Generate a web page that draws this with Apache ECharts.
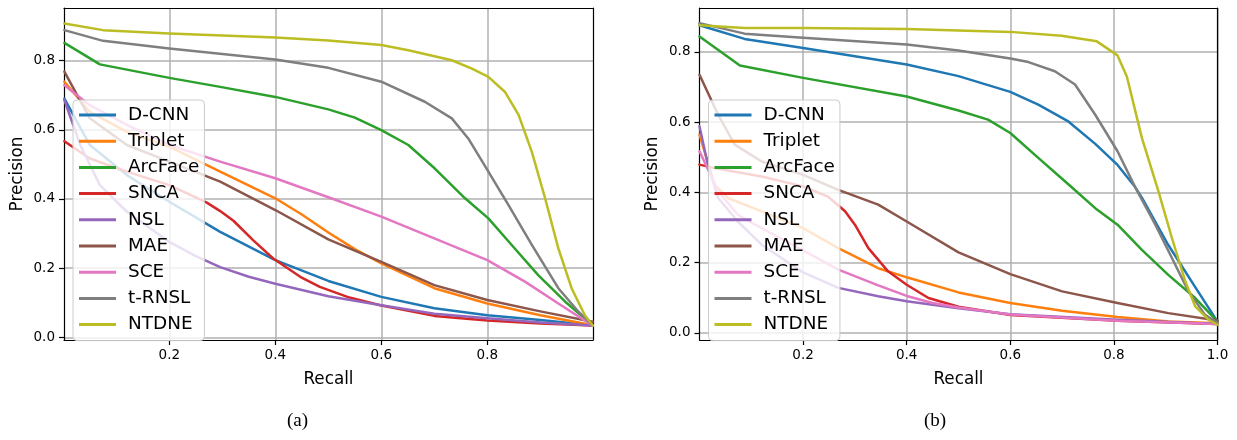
<!DOCTYPE html>
<html><head><meta charset="utf-8">
<script src="https://cdn.jsdelivr.net/npm/echarts@6/dist/echarts.min.js"></script>
<style>html,body{margin:0;padding:0;background:#fff}#c{width:1237px;height:440px}</style>
</head><body><div id="c"></div>
<script>
const methods = ['D-CNN','Triplet','ArcFace','SNCA','NSL','MAE','SCE','t-RNSL','NTDNE'];
const colors = ['#1f77b4','#ff7f0e','#2ca02c','#d62728','#9467bd','#8c564b','#e377c2','#7f7f7f','#bcbd22'];
const xTicksA = [0.2,0.4,0.6,0.8];
const xTicksB = [0.2,0.4,0.6,0.8,1.0];
const yTicks = [0.0,0.2,0.4,0.6,0.8];

// panel (a): [recall, precision]
const a_DCNN = [[0.002,0.69],[0.05,0.556],[0.12,0.469],[0.2,0.392],[0.296,0.305],[0.4,0.223],[0.5,0.163],[0.6,0.117],[0.7,0.084],[0.8,0.064],[0.9,0.05],[0.999,0.035]];
const a_Triplet = [[0.002,0.739],[0.05,0.652],[0.12,0.594],[0.2,0.551],[0.296,0.479],[0.4,0.402],[0.45,0.355],[0.5,0.303],[0.55,0.255],[0.6,0.214],[0.7,0.142],[0.8,0.098],[0.9,0.064],[0.999,0.035]];
const a_ArcFace = [[0.002,0.851],[0.069,0.789],[0.2,0.75],[0.296,0.724],[0.4,0.695],[0.5,0.659],[0.55,0.635],[0.6,0.599],[0.651,0.556],[0.701,0.488],[0.758,0.402],[0.802,0.344],[0.846,0.267],[0.896,0.18],[0.947,0.103],[0.999,0.035]];
const a_SNCA = [[0.002,0.567],[0.05,0.517],[0.12,0.479],[0.2,0.44],[0.27,0.39],[0.296,0.365],[0.321,0.337],[0.358,0.281],[0.396,0.228],[0.447,0.175],[0.484,0.146],[0.54,0.115],[0.6,0.092],[0.7,0.062],[0.8,0.049],[0.9,0.04],[0.999,0.034]];
const a_NSL = [[0.002,0.686],[0.032,0.556],[0.069,0.44],[0.12,0.363],[0.2,0.276],[0.25,0.235],[0.296,0.203],[0.35,0.175],[0.4,0.155],[0.5,0.119],[0.6,0.093],[0.7,0.068],[0.8,0.055],[0.9,0.043],[0.999,0.034]];
const a_MAE = [[0.002,0.768],[0.05,0.633],[0.12,0.556],[0.2,0.508],[0.296,0.45],[0.4,0.368],[0.5,0.283],[0.6,0.218],[0.7,0.151],[0.8,0.108],[0.9,0.075],[0.999,0.045]];
const a_SCE = [[0.002,0.729],[0.05,0.671],[0.12,0.614],[0.2,0.556],[0.296,0.508],[0.4,0.46],[0.5,0.405],[0.6,0.349],[0.7,0.286],[0.8,0.223],[0.871,0.161],[0.934,0.098],[0.999,0.034]];
const a_tRNSL = [[0.002,0.888],[0.075,0.857],[0.2,0.835],[0.4,0.803],[0.5,0.779],[0.6,0.739],[0.682,0.681],[0.733,0.633],[0.764,0.575],[0.802,0.479],[0.84,0.382],[0.884,0.267],[0.934,0.142],[0.972,0.074],[0.999,0.035]];
const a_NTDNE = [[0.002,0.907],[0.075,0.888],[0.2,0.878],[0.4,0.867],[0.5,0.858],[0.6,0.845],[0.651,0.83],[0.733,0.801],[0.771,0.777],[0.802,0.753],[0.833,0.71],[0.859,0.643],[0.884,0.536],[0.909,0.402],[0.934,0.257],[0.959,0.142],[0.984,0.064],[0.999,0.034]];

// panel (b): [recall, precision]
const b_DCNN = [[0,0.876],[0.087,0.837],[0.2,0.811],[0.4,0.764],[0.5,0.731],[0.6,0.686],[0.654,0.65],[0.712,0.602],[0.764,0.538],[0.807,0.478],[0.841,0.415],[0.854,0.385],[0.905,0.25],[0.957,0.13],[1,0.032]];
const b_Triplet = [[0,0.564],[0.029,0.422],[0.055,0.384],[0.12,0.346],[0.2,0.298],[0.268,0.241],[0.345,0.184],[0.4,0.158],[0.5,0.115],[0.6,0.085],[0.7,0.063],[0.807,0.045],[0.905,0.032],[1,0.027]];
const b_ArcFace = [[0,0.844],[0.078,0.761],[0.2,0.726],[0.4,0.673],[0.5,0.633],[0.557,0.607],[0.6,0.569],[0.654,0.498],[0.706,0.431],[0.764,0.355],[0.807,0.308],[0.854,0.236],[0.905,0.165],[0.957,0.099],[1,0.032]];
const b_SNCA = [[0,0.479],[0.029,0.469],[0.12,0.445],[0.2,0.417],[0.248,0.388],[0.281,0.346],[0.3,0.308],[0.326,0.241],[0.364,0.175],[0.4,0.137],[0.442,0.099],[0.5,0.074],[0.6,0.051],[0.807,0.034],[1,0.025]];
const b_NSL = [[0,0.588],[0.016,0.479],[0.036,0.384],[0.074,0.317],[0.12,0.251],[0.2,0.172],[0.268,0.128],[0.345,0.104],[0.4,0.09],[0.45,0.08],[0.5,0.07],[0.6,0.053],[0.807,0.037],[1,0.025]];
const b_MAE = [[0,0.735],[0.036,0.621],[0.068,0.536],[0.12,0.488],[0.2,0.45],[0.268,0.407],[0.345,0.365],[0.4,0.317],[0.5,0.229],[0.6,0.167],[0.7,0.118],[0.807,0.085],[0.905,0.056],[1,0.035]];
const b_SCE = [[0,0.517],[0.036,0.403],[0.074,0.336],[0.12,0.298],[0.2,0.235],[0.268,0.18],[0.345,0.135],[0.4,0.105],[0.45,0.085],[0.5,0.072],[0.6,0.052],[0.807,0.034],[1,0.025]];
const b_tRNSL = [[0,0.882],[0.087,0.852],[0.2,0.84],[0.4,0.821],[0.5,0.804],[0.6,0.781],[0.635,0.771],[0.686,0.745],[0.725,0.707],[0.764,0.621],[0.807,0.517],[0.841,0.415],[0.88,0.308],[0.912,0.213],[0.944,0.118],[0.976,0.051],[1,0.028]];
const b_NTDNE = [[0,0.876],[0.087,0.868],[0.2,0.868],[0.4,0.865],[0.5,0.861],[0.6,0.857],[0.699,0.846],[0.767,0.83],[0.807,0.79],[0.825,0.73],[0.854,0.555],[0.886,0.403],[0.912,0.27],[0.938,0.146],[0.957,0.075],[0.983,0.037],[1,0.023]];

const panelA = [a_DCNN,a_Triplet,a_ArcFace,a_SNCA,a_NSL,a_MAE,a_SCE,a_tRNSL,a_NTDNE];
const panelB = [b_DCNN,b_Triplet,b_ArcFace,b_SNCA,b_NSL,b_MAE,b_SCE,b_tRNSL,b_NTDNE];

const SANS = 'DejaVu Sans';
const SERIF = 'Liberation Serif';

function xAxisMain(gi, min, max, ticks){
  return {type:'value', gridIndex:gi, min, max, position:'bottom',
    axisLine:{show:true, onZero:false, lineStyle:{color:'#000', width:1.2}},
    axisTick:{show:true, inside:false, length:5, customValues:ticks, lineStyle:{color:'#000', width:1.2}},
    axisLabel:{show:true, customValues:ticks, formatter:v=>v.toFixed(1), color:'#000', fontSize:13.5, fontFamily:SANS, margin:8},
    splitLine:{show:true, lineStyle:{color:'#b0b0b0', width:1.5}},
    name:'Recall', nameLocation:'middle', nameGap:31,
    nameTextStyle:{color:'#000', fontSize:16.8, fontFamily:SANS}};
}
function yAxisMain(gi, min, max){
  return {type:'value', gridIndex:gi, min, max, position:'left',
    axisLine:{show:true, onZero:false, lineStyle:{color:'#000', width:1.2}},
    axisTick:{show:true, inside:false, length:5, customValues:yTicks, lineStyle:{color:'#000', width:1.2}},
    axisLabel:{show:true, customValues:yTicks, formatter:v=>v.toFixed(1), color:'#000', fontSize:13.5, fontFamily:SANS, margin:9},
    splitLine:{show:true, lineStyle:{color:'#b0b0b0', width:1.5}},
    name:'Precision', nameLocation:'middle', nameGap:38,
    nameTextStyle:{color:'#000', fontSize:16.8, fontFamily:SANS}};
}
function spine(gi, pos){
  return {type:'value', gridIndex:gi, min:0, max:1, position:pos,
    axisLine:{show:true, onZero:false, lineStyle:{color:'#000', width:1.2}},
    axisTick:{show:false}, axisLabel:{show:false}, splitLine:{show:false}};
}
function legendAt(left){
  return {left, top:100, orient:'vertical', padding:[6,5,7,6], itemGap:8.2,
    itemWidth:44, itemHeight:17, icon:'path://M0,0M44,17M0,7H37V10H0Z',
    backgroundColor:'rgba(255,255,255,0.8)', borderColor:'#cccccc', borderWidth:1, borderRadius:4,
    textStyle:{fontSize:18.4, fontFamily:SANS, color:'#000', lineHeight:17},
    selectedMode:false, data:methods};
}

const series = [];
[panelA, panelB].forEach((panel, gi) => {
  panel.forEach((d, i) => {
    series.push({type:'line', name:methods[i], data:d, xAxisIndex:gi, yAxisIndex:gi,
      symbol:'none', showSymbol:false, smooth:false, clip:true,
      lineStyle:{width:2.5, color:colors[i], join:'round', cap:'round'}, itemStyle:{color:colors[i]},
      emphasis:{disabled:true}, silent:true, z:3});
  });
});

const chart = echarts.init(document.getElementById('c'), null, {renderer:'canvas'});
chart.setOption({
  animation:false,
  backgroundColor:'#fff',
  title:[
    {text:'(a)', left:287, top:412, padding:0, textStyle:{fontFamily:SERIF, fontWeight:'normal', fontSize:19, color:'#000'}},
    {text:'(b)', left:924, top:412, padding:0, textStyle:{fontFamily:SERIF, fontWeight:'normal', fontSize:19, color:'#000'}}
  ],
  grid:[
    {left:64, top:8, width:529, height:332, show:false},
    {left:699.5, top:8, width:518, height:332, show:false}
  ],
  xAxis:[
    xAxisMain(0, 0.0013, 0.9994, xTicksA),
    xAxisMain(1, 0, 1, xTicksB),
    spine(0,'top'), spine(1,'top')
  ],
  yAxis:[
    yAxisMain(0, -0.0077, 0.952),
    yAxisMain(1, -0.0205, 0.925),
    spine(0,'right'), spine(1,'right')
  ],
  legend:[legendAt(73), legendAt(708.5)],
  series
});
</script></body></html>
